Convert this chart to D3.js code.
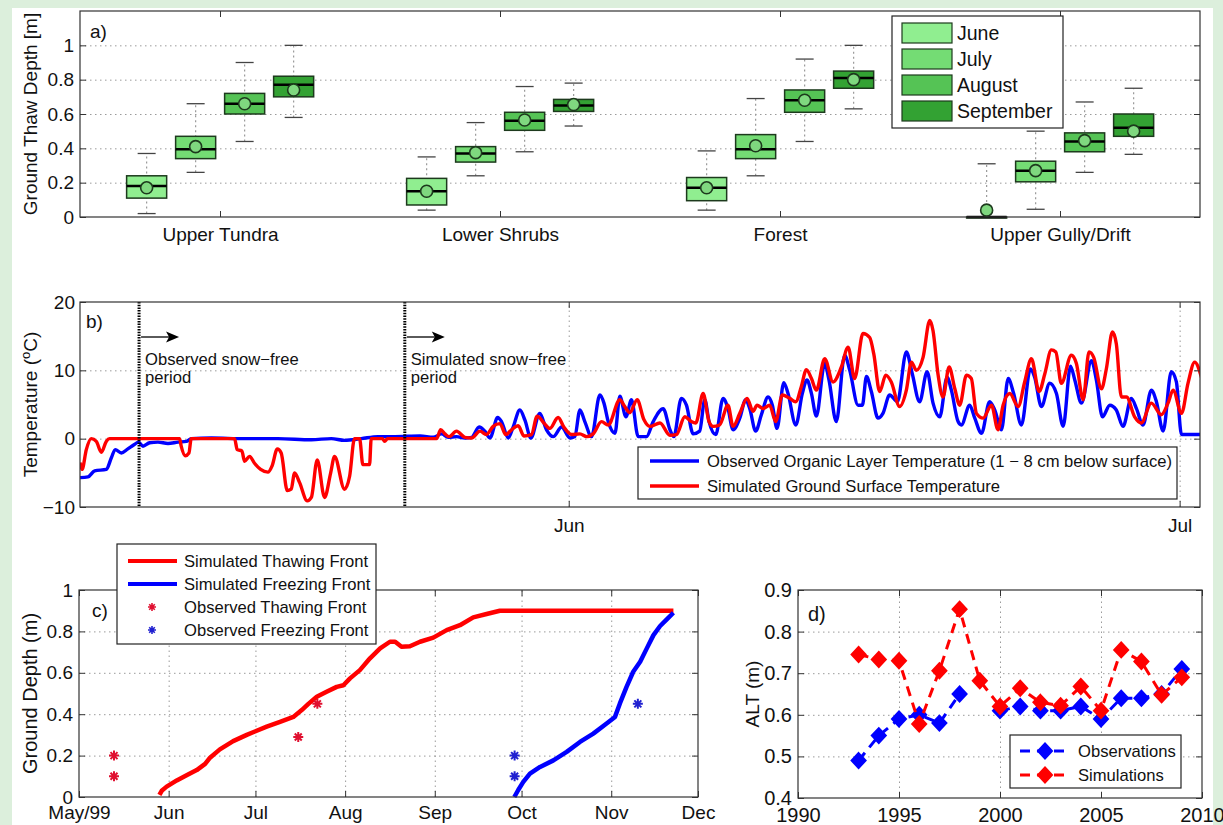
<!DOCTYPE html>
<html>
<head>
<meta charset="utf-8">
<script src="https://cdn.jsdelivr.net/npm/d3@7"></script>
<style>
  body { margin: 0; background: #dcefdc; }
</style>
</head>
<body>
<div id="chart"></div>
<script>
// ---------- data ----------
// a) thaw depth box plots (m), one row per site, one column per month
const sites = ["Upper Tundra", "Lower Shrubs", "Forest", "Upper Gully/Drift"];
const months = ["June", "July", "August", "September"];
const monthColors = ["#90ee90", "#74dc74", "#55c355", "#33a233"];
const whiskLo = [[0.02, 0.26, 0.44, 0.58], [0.04, 0.24, 0.38, 0.53], [0.04, 0.24, 0.44, 0.63], [0.0, 0.045, 0.26, 0.365]];
const q1 =      [[0.11, 0.34, 0.60, 0.70], [0.07, 0.32, 0.505, 0.615], [0.095, 0.34, 0.61, 0.75], [0.0, 0.205, 0.38, 0.47]];
const median =  [[0.18, 0.395, 0.66, 0.77], [0.15, 0.37, 0.56, 0.65], [0.17, 0.395, 0.68, 0.81], [0.0, 0.27, 0.44, 0.52]];
const q3 =      [[0.24, 0.47, 0.72, 0.82], [0.225, 0.41, 0.61, 0.685], [0.23, 0.48, 0.74, 0.85], [0.0, 0.325, 0.49, 0.60]];
const whiskHi = [[0.37, 0.66, 0.90, 1.0], [0.35, 0.55, 0.76, 0.78], [0.385, 0.69, 0.92, 1.0], [0.31, 0.50, 0.67, 0.75]];
const mean =    [[0.17, 0.41, 0.66, 0.74], [0.15, 0.375, 0.565, 0.655], [0.17, 0.415, 0.68, 0.80], [0.04, 0.27, 0.445, 0.50]];
const thawTicks = [0, 0.2, 0.4, 0.6, 0.8, 1];

// b) temperatures, day counted from 1 May 1999
const obsDay = [7.0, 7.39, 7.72, 8.29, 8.54, 8.73, 9.03, 9.35, 9.65, 9.88, 10.09, 10.42, 10.83, 11.32, 11.81, 12.22, 12.46, 13.45, 15.08, 16.72, 18.36, 19.34, 19.99, 20.81, 21.63, 22.45, 23.7, 24.35, 24.76, 25.08, 25.49, 25.9, 26.23, 26.6, 26.88, 27.13, 27.51, 27.7, 28.03, 28.27, 28.6, 28.85, 29.14, 29.58, 29.91, 30.24, 30.65, 31.06, 31.3, 31.55, 31.79, 32.12, 32.53, 32.73, 32.94, 33.27, 33.51, 33.81, 34.08, 34.41, 34.82, 35.15, 35.64, 35.97, 36.16, 36.53, 36.78, 37.11, 37.43, 37.68, 37.89, 38.22, 38.58, 38.82, 39.07, 39.4, 39.69, 39.89, 40.18, 40.46, 40.79, 41.0, 41.23, 41.56, 41.77, 42.15, 42.47, 42.7, 42.92, 43.16, 43.57, 43.78, 44.14, 44.55, 44.8, 45.21, 45.42, 45.62, 45.86, 46.19, 46.43, 46.76, 47.14, 47.58, 47.87, 48.23, 48.6, 48.89, 49.22, 49.58, 49.79, 50.12, 50.28, 50.69, 50.94, 51.27, 51.67, 51.92, 52.25, 52.58, 52.85, 53.23, 53.67, 53.88, 54.21, 54.62, 54.95, 55.28, 55.64, 55.85, 56.18, 56.67, 56.91, 57.21, 57.57, 57.89, 58.22, 58.63, 58.88, 59.2, 59.61, 59.86, 60.19, 60.59, 60.84, 61.09, 62.48];
const obsTemp = [-5.7, -5.6, -4.7, -4.5, -2.8, -1.6, -2.1, -1.5, -0.9, -0.5, -1.1, -0.6, -0.5, -0.7, -0.5, -0.4, 0, 0.1, 0, 0, -0.15, 0, -0.25, 0, 0.3, 0.3, 0.4, 0.2, 0.7, 0.2, 0.3, 0.1, 0.2, 1.7, 1.1, 0.1, 3.1, 2.5, 0.1, 1.7, 4.2, 2.7, 0.1, 3.7, 1.3, 0.3, 1.7, 0.1, 0.3, 4.2, 2.5, 0.3, 6.4, 5.2, 2.5, 0.8, 6.2, 3.2, 5.7, 0.3, 0.3, 2.5, 4.4, 1.3, 0.3, 5.9, 4.9, 0.7, 1.1, 5.7, 2.5, 0.6, 5.9, 4.4, 1.3, 3.0, 5.7, 4.4, 1.1, 3.5, 6.1, 4.9, 1.5, 8.2, 6.6, 2.0, 6.6, 8.6, 6.6, 3.3, 11.0, 8.6, 2.5, 12.2, 10.0, 4.9, 4.9, 9.1, 6.9, 3.0, 3.7, 6.4, 5.4, 12.7, 9.5, 5.4, 9.8, 5.2, 3.2, 9.0, 7.1, 2.5, 2.0, 4.9, 3.0, 0.8, 5.4, 4.2, 1.3, 8.8, 6.6, 2.0, 10.2, 9.0, 4.7, 8.1, 6.6, 1.8, 10.6, 8.6, 5.2, 11.4, 8.6, 3.2, 4.9, 4.2, 1.8, 5.9, 4.4, 2.0, 7.1, 5.4, 1.1, 9.8, 8.3, 0.6, 0.6];
const simDay = [7.0, 7.1, 7.31, 7.55, 7.8, 8.05, 8.29, 8.45, 11.89, 11.97, 12.17, 12.35, 12.46, 14.59, 14.72, 14.95, 15.08, 15.33, 15.57, 15.87, 16.23, 16.43, 16.69, 16.88, 17.18, 17.37, 17.54, 17.78, 18.16, 18.36, 18.65, 19.01, 19.31, 19.5, 19.99, 20.24, 20.48, 20.73, 20.89, 21.22, 21.3, 21.85, 21.96, 22.1, 24.51, 24.71, 24.92, 25.13, 25.49, 25.9, 26.23, 26.64, 26.96, 27.29, 27.62, 27.91, 28.19, 28.52, 28.8, 29.17, 29.45, 29.78, 30.07, 30.48, 30.76, 31.14, 31.55, 31.88, 32.2, 32.61, 32.94, 33.51, 33.71, 34.0, 34.36, 34.69, 34.98, 35.48, 35.97, 36.29, 36.7, 37.02, 37.24, 37.6, 37.89, 38.09, 38.41, 38.82, 39.07, 39.4, 39.76, 40.05, 40.25, 40.54, 40.87, 41.16, 41.49, 41.85, 42.15, 42.42, 42.67, 42.92, 43.16, 43.57, 43.98, 44.39, 44.72, 45.04, 45.45, 45.78, 45.98, 46.27, 46.57, 46.84, 47.25, 47.58, 47.83, 48.07, 48.4, 48.73, 48.89, 49.14, 49.38, 49.68, 49.96, 50.2, 50.53, 50.77, 51.02, 51.35, 51.76, 52.08, 52.33, 52.66, 53.07, 53.39, 53.72, 54.1, 54.38, 54.7, 54.92, 55.19, 55.68, 55.93, 56.26, 56.55, 56.78, 57.16, 57.4, 57.7, 57.89, 58.14, 58.39, 58.79, 59.12, 59.61, 60.1, 60.43, 60.68, 61.09, 61.41, 61.74, 62.07, 62.31];
const simTemp = [-3.5, -4.5, -1.6, 0, -0.4, -2.0, -0.4, 0, 0, -1.1, -2.5, -2.1, 0, 0, -1.6, -1.8, -3.3, -2.6, -3.6, -4.5, -4.9, -4.0, -1.5, -2.1, -7.6, -7.4, -5.0, -6.4, -9.1, -8.6, -3.1, -8.6, -5.0, -2.6, -7.4, -5.5, 0, 0, -3.8, -3.8, 0, 0, -0.4, 0, 0, 1.3, 0.7, 0.3, 1.1, 0.2, 0.1, 1.1, 0.6, 1.8, 2.2, 0.6, 1.3, 1.9, 0.4, 0.6, 3.3, 2.3, 1.5, 3.1, 1.7, 0.6, 0.7, 0.3, 0.7, 2.5, 2.0, 5.7, 4.9, 3.8, 5.7, 2.8, 1.8, 2.3, 0.5, 0.6, 3.2, 2.5, 2.3, 6.6, 2.5, 1.8, 2.0, 4.9, 1.8, 3.7, 5.9, 4.0, 4.9, 4.4, 4.9, 2.5, 6.4, 5.9, 5.4, 7.6, 10.1, 8.8, 7.1, 11.7, 8.3, 10.5, 13.4, 8.8, 15.4, 14.8, 12.4, 6.9, 9.3, 8.3, 4.7, 7.1, 11.2, 10.0, 11.9, 17.3, 15.8, 9.3, 6.1, 10.5, 7.3, 4.9, 9.3, 8.8, 3.7, 3.0, 4.9, 1.3, 4.9, 6.6, 4.7, 8.3, 11.7, 6.9, 9.5, 13.0, 12.7, 8.1, 12.2, 11.0, 5.7, 12.7, 11.9, 7.3, 10.2, 15.6, 13.9, 6.1, 6.1, 3.2, 2.3, 5.2, 3.5, 5.2, 7.1, 3.7, 8.1, 11.2, 9.0, 6.1];
const snowFreeDay = [9.9, 22.95];
const snowFreeText = [["Observed snow\u2212free", "period"], ["Simulated snow\u2212free", "period"]];
const tempTicks = [-10, 0, 10, 20];

// c) thawing / freezing fronts, day counted from 1 May 1999
const thawDay = [27.8, 28.6, 30.3, 33.8, 37.2, 40.7, 43.6, 45.3, 48.7, 53.3, 58.0, 60.6, 64.9, 69.5, 74.1, 77.0, 79.3, 82.2, 85.6, 89.1, 91.4, 93.7, 97.1, 100.6, 104.1, 107.5, 109.3, 111.5, 114.4, 117.9, 122.5, 127.1, 131.7, 136.3, 140.9, 145.5, 205.5];
const thawDepth = [0.01, 0.03, 0.05, 0.08, 0.105, 0.13, 0.16, 0.19, 0.23, 0.27, 0.30, 0.315, 0.34, 0.363, 0.387, 0.42, 0.45, 0.484, 0.508, 0.532, 0.54, 0.573, 0.613, 0.67, 0.718, 0.75, 0.75, 0.726, 0.728, 0.75, 0.77, 0.806, 0.83, 0.868, 0.884, 0.9, 0.9];
const freezeDay = [150.5, 151.9, 153.6, 155.9, 159.4, 164.0, 168.6, 173.2, 177.8, 182.4, 185.3, 187.0, 189.3, 191.6, 194.0, 196.3, 198.6, 200.9, 203.2, 205.5];
const freezeDepth = [0, 0.035, 0.073, 0.113, 0.145, 0.177, 0.218, 0.266, 0.306, 0.355, 0.387, 0.452, 0.532, 0.605, 0.653, 0.718, 0.782, 0.826, 0.858, 0.89];
const thawObsDay = [12.1, 12.1, 75.8, 82.4];
const thawObsDepth = [0.2, 0.1, 0.29, 0.45];
const freezeObsDay = [150.6, 150.6, 193.2];
const freezeObsDepth = [0.2, 0.1, 0.45];
const depthTicks = [0, 0.2, 0.4, 0.6, 0.8, 1];

// d) active layer thickness
const years = [1993, 1994, 1995, 1996, 1997, 1998, 1999, 2000, 2001, 2002, 2003, 2004, 2005, 2006, 2007, 2008, 2009];
const altObs = [0.49, 0.55, 0.59, 0.60, 0.58, 0.65, null, 0.61, 0.62, 0.61, 0.61, 0.62, 0.59, 0.64, 0.64, 0.65, 0.71];
const altSim = [0.745, 0.733, 0.73, 0.578, 0.706, 0.854, 0.682, 0.62, 0.664, 0.63, 0.622, 0.668, 0.61, 0.756, 0.728, 0.648, 0.69];
const yearTicks = [1990, 1995, 2000, 2005, 2010];
const altTicks = [0.4, 0.5, 0.6, 0.7, 0.8, 0.9];

// ---------- setup ----------
const W = 1223, H = 825;
const font = "'Liberation Sans', Arial, Helvetica, sans-serif";
const dayToDate = d => new Date(Date.UTC(1999, 4, 1) + d * 864e5);

const svg = d3.select("#chart").append("svg")
  .attr("width", W).attr("height", H)
  .attr("font-family", font);

svg.append("rect").attr("width", W).attr("height", H).attr("fill", "#dcefdc");
svg.append("rect").attr("x", 12).attr("y", 8).attr("width", 1201).attr("height", H - 8).attr("fill", "#fff");

function grid(x, y, gx, gy) {
  const [xl, xr] = x.range(), [yb, yt] = y.range();
  const g = svg.append("g");
  if (gx) g.append("g").attr("transform", `translate(0,${yb})`)
    .call(d3.axisBottom(x).tickValues(gx).tickSize(-(yb - yt)).tickFormat(""));
  if (gy) g.append("g").attr("transform", `translate(${xl},0)`)
    .call(d3.axisLeft(y).tickValues(gy).tickSize(-(xr - xl)).tickFormat(""));
  g.selectAll(".domain").remove();
  g.selectAll("line").attr("stroke", "#9a9a9a").attr("stroke-dasharray", "1.5,3.5");
}

function axes(x, y, o) {
  const [xl, xr] = x.range(), [yb, yt] = y.range();
  const g = svg.append("g");
  g.append("g").attr("transform", `translate(0,${yb})`)
    .call(d3.axisBottom(x).tickValues(o.xTicks).tickFormat(o.xFmt).tickSize(-6).tickPadding(o.xPad || 10));
  g.append("g").attr("transform", `translate(0,${yt})`)
    .call(d3.axisTop(x).tickValues(o.xTicks).tickFormat("").tickSize(-6));
  g.append("g").attr("transform", `translate(${xl},0)`)
    .call(d3.axisLeft(y).tickValues(o.yTicks).tickFormat(o.yFmt).tickSize(-6).tickPadding(o.yPad || 6));
  g.append("g").attr("transform", `translate(${xr},0)`)
    .call(d3.axisRight(y).tickValues(o.yTicks).tickFormat("").tickSize(-6));
  g.selectAll(".domain").remove();
  g.selectAll(".tick line").attr("stroke", "#333").attr("stroke-width", 1);
  g.selectAll("text").attr("font-family", font).attr("font-size", o.fs).attr("fill", "#111");
  g.append("rect").attr("x", xl).attr("y", yt).attr("width", xr - xl).attr("height", yb - yt)
    .attr("fill", "none").attr("stroke", "#333").attr("stroke-width", 1.2);
  // y label
  svg.append("text")
    .attr("transform", `translate(${o.labX},${(yb + yt) / 2}) rotate(-90)`)
    .attr("text-anchor", "middle").attr("dy", "0.35em")
    .attr("font-size", o.labFs || o.fs).attr("fill", "#111")
    .call(t => o.label(t));
  svg.append("text").attr("x", o.tagX).attr("y", o.tagY)
    .attr("font-size", o.fs).attr("fill", "#111").text(o.tag);
}

function legendBox(x, y, w, h) {
  svg.append("rect").attr("x", x).attr("y", y).attr("width", w).attr("height", h)
    .attr("fill", "#fff").attr("stroke", "#222").attr("stroke-width", 1.2);
}

const starPath = "M-5,0L5,0M0,-5L0,5M-3.5,-3.5L3.5,3.5M-3.5,3.5L3.5,-3.5";

// ---------- a) box plots ----------
{
  const x = d3.scaleLinear().domain([0.5, 4.5]).range([80, 1200]);
  const y = d3.scaleLinear().domain([0, 1.2]).range([217, 11]);
  const offsets = [-0.262, -0.087, 0.088, 0.263];
  const half = (x(0.143) - x(0)) / 2;
  grid(x, y, null, [0.2, 0.4, 0.6, 0.8, 1]);

  const g = svg.append("g");
  sites.forEach((s, i) => {
    months.forEach((m, j) => {
      const cx = x(i + 1 + offsets[j]);
      g.append("line").attr("x1", cx).attr("x2", cx)
        .attr("y1", y(whiskLo[i][j])).attr("y2", y(whiskHi[i][j]))
        .attr("stroke", "#999").attr("stroke-width", 1.2).attr("stroke-dasharray", "2,3");
      [whiskLo[i][j], whiskHi[i][j]].forEach(v => {
        g.append("line").attr("x1", cx - 9).attr("x2", cx + 9)
          .attr("y1", y(v)).attr("y2", y(v)).attr("stroke", "#444").attr("stroke-width", 1.3);
      });
      g.append("rect").attr("x", cx - half).attr("y", y(q3[i][j]))
        .attr("width", 2 * half).attr("height", Math.max(1, y(q1[i][j]) - y(q3[i][j])))
        .attr("fill", monthColors[j]).attr("stroke", "#1d3a1d").attr("stroke-width", 1.5);
      g.append("line").attr("x1", cx - half).attr("x2", cx + half)
        .attr("y1", y(median[i][j])).attr("y2", y(median[i][j]))
        .attr("stroke", "#000").attr("stroke-width", 2.5);
      g.append("circle").attr("cx", cx).attr("cy", y(mean[i][j])).attr("r", 6)
        .attr("fill", "#7fd87f").attr("stroke", "#1d3a1d").attr("stroke-width", 1.6);
    });
  });

  axes(x, y, {
    xTicks: [1, 2, 3, 4], xFmt: d => sites[d - 1], xPad: 11,
    yTicks: thawTicks, yFmt: d3.format("~g"), yPad: 6, fs: 19,
    labX: 30, label: t => t.text("Ground Thaw Depth [m]"),
    tag: "a)", tagX: 90, tagY: 38
  });

  legendBox(892, 16, 171, 112);
  months.forEach((m, j) => {
    svg.append("rect").attr("x", 902).attr("y", 23 + j * 26).attr("width", 50).attr("height", 20)
      .attr("fill", monthColors[j]).attr("stroke", "#1d3a1d").attr("stroke-width", 1.2);
    svg.append("text").attr("x", 957).attr("y", 40 + j * 26)
      .attr("font-size", 19.5).attr("fill", "#111").text(m);
  });
}

// ---------- b) temperatures ----------
{
  const x = d3.scaleUtc().domain([dayToDate(7), dayToDate(62)]).range([80, 1200]);
  const y = d3.scaleLinear().domain([-10, 20]).range([507, 302]);
  grid(x, y, [dayToDate(31), dayToDate(61)], [0, 10]);

  svg.append("clipPath").attr("id", "clipB").append("rect")
    .attr("x", 80).attr("y", 302).attr("width", 1120).attr("height", 205);

  const line = d3.line().curve(d3.curveMonotoneX)
    .x(d => x(dayToDate(d[0]))).y(d => y(d[1]));
  const g = svg.append("g").attr("clip-path", "url(#clipB)");
  g.append("path").datum(obsDay.map((d, i) => [d, obsTemp[i]]))
    .attr("d", line).attr("fill", "none").attr("stroke", "#0000ff")
    .attr("stroke-width", 3.4).attr("stroke-linejoin", "round");
  g.append("path").datum(simDay.map((d, i) => [d, simTemp[i]]))
    .attr("d", line).attr("fill", "none").attr("stroke", "#ff0000")
    .attr("stroke-width", 3.4).attr("stroke-linejoin", "round");

  snowFreeDay.forEach((d, k) => {
    const px = x(dayToDate(d));
    svg.append("line").attr("x1", px).attr("x2", px).attr("y1", 302).attr("y2", 507)
      .attr("stroke", "#000").attr("stroke-width", 3).attr("stroke-dasharray", "1.5,1.2");
    svg.append("line").attr("x1", px + 2).attr("x2", px + 30).attr("y1", 337).attr("y2", 337)
      .attr("stroke", "#000").attr("stroke-width", 1.3);
    svg.append("path").attr("d", `M${px + 40},337L${px + 27},331.5L${px + 30},337L${px + 27},342.5Z`)
      .attr("fill", "#000");
    snowFreeText[k].forEach((s, r) => {
      svg.append("text").attr("x", px + 6).attr("y", 365 + r * 18)
        .attr("font-size", 16.6).attr("fill", "#111").text(s);
    });
  });

  axes(x, y, {
    xTicks: [dayToDate(31), dayToDate(61)], xFmt: d3.utcFormat("%b"), xPad: 12,
    yTicks: tempTicks, yFmt: d3.format("d"), yPad: 5, fs: 19,
    labX: 30,
    label: t => {
      t.append("tspan").text("Temperature (");
      t.append("tspan").attr("font-size", 13).attr("dy", -7).text("o");
      t.append("tspan").attr("dy", 7).text("C)");
    },
    tag: "b)", tagX: 86, tagY: 328
  });

  legendBox(638, 447, 539, 52);
  [["#0000ff", "Observed Organic Layer Temperature (1 \u2212 8 cm below surface)"],
   ["#ff0000", "Simulated Ground Surface Temperature"]].forEach((e, k) => {
    const cy = 461 + k * 25;
    svg.append("line").attr("x1", 650).attr("x2", 699).attr("y1", cy).attr("y2", cy)
      .attr("stroke", e[0]).attr("stroke-width", 3.4);
    svg.append("text").attr("x", 707).attr("y", cy).attr("dy", "0.35em")
      .attr("font-size", 16.6).attr("fill", "#111").text(e[1]);
  });
}

// ---------- c) thawing / freezing fronts ----------
{
  const x = d3.scaleUtc().domain([dayToDate(0), dayToDate(214)]).range([79, 698]);
  const y = d3.scaleLinear().domain([0, 1]).range([797, 590]);
  const monthTicks = d3.utcMonth.range(dayToDate(0), dayToDate(215));
  grid(x, y, monthTicks.slice(1, -1), [0.2, 0.4, 0.6, 0.8]);

  const line = d3.line().x(d => x(dayToDate(d[0]))).y(d => y(d[1]));
  svg.append("path").datum(thawDay.map((d, i) => [d, thawDepth[i]]))
    .attr("d", line).attr("fill", "none").attr("stroke", "#ff0000")
    .attr("stroke-width", 4.5).attr("stroke-linejoin", "round");
  svg.append("path").datum(freezeDay.map((d, i) => [d, freezeDepth[i]]))
    .attr("d", line).attr("fill", "none").attr("stroke", "#0000ff")
    .attr("stroke-width", 4.5).attr("stroke-linejoin", "round");

  thawObsDay.forEach((d, i) => {
    svg.append("path").attr("d", starPath)
      .attr("transform", `translate(${x(dayToDate(d))},${y(thawObsDepth[i])})`)
      .attr("stroke", "#e01030").attr("stroke-width", 2);
  });
  freezeObsDay.forEach((d, i) => {
    svg.append("path").attr("d", starPath)
      .attr("transform", `translate(${x(dayToDate(d))},${y(freezeObsDepth[i])})`)
      .attr("stroke", "#2020d0").attr("stroke-width", 2);
  });

  axes(x, y, {
    xTicks: monthTicks,
    xFmt: d => d.getUTCMonth() === 4 ? "May/99" : d3.utcFormat("%b")(d), xPad: 9,
    yTicks: depthTicks, yFmt: d3.format("~g"), yPad: 6, fs: 19,
    labX: 30, labFs: 20, label: t => t.text("Ground Depth (m)"),
    tag: "c)", tagX: 92, tagY: 617
  });

  legendBox(117, 544, 259, 100);
  const entries = [
    ["#ff0000", "line", "Simulated Thawing Front"],
    ["#0000ff", "line", "Simulated Freezing Front"],
    ["#e01030", "star", "Observed Thawing Front"],
    ["#2020d0", "star", "Observed Freezing Front"]
  ];
  entries.forEach((e, k) => {
    const cy = 561 + k * 23;
    if (e[1] === "line") {
      svg.append("line").attr("x1", 128).attr("x2", 177).attr("y1", cy).attr("y2", cy)
        .attr("stroke", e[0]).attr("stroke-width", 4);
    } else {
      svg.append("path").attr("d", starPath).attr("transform", `translate(152,${cy}) scale(0.8)`)
        .attr("stroke", e[0]).attr("stroke-width", 2);
    }
    svg.append("text").attr("x", 184).attr("y", cy).attr("dy", "0.35em")
      .attr("font-size", 16.6).attr("fill", "#111").text(e[2]);
  });
}

// ---------- d) ALT ----------
{
  const x = d3.scaleLinear().domain([1990, 2010]).range([798, 1202]);
  const y = d3.scaleLinear().domain([0.4, 0.9]).range([798, 590]);
  grid(x, y, [1995, 2000, 2005], [0.5, 0.6, 0.7, 0.8]);

  const diamond = "M0,-7.5L7,0L0,7.5L-7,0Z";
  const line = d3.line().defined(d => d[1] != null).x(d => x(d[0])).y(d => y(d[1]));
  [[altObs, "#0000ff"], [altSim, "#ff0000"]].forEach(([vals, c]) => {
    const pts = years.map((yr, i) => [yr, vals[i]]);
    svg.append("path").datum(pts).attr("d", line).attr("fill", "none")
      .attr("stroke", c).attr("stroke-width", 3).attr("stroke-dasharray", "10,7");
    svg.append("g").selectAll("path").data(pts.filter(p => p[1] != null)).join("path")
      .attr("d", diamond).attr("transform", p => `translate(${x(p[0])},${y(p[1])})`)
      .attr("fill", c).attr("stroke", c).attr("stroke-width", 2);
  });

  axes(x, y, {
    xTicks: yearTicks, xFmt: d3.format("d"), xPad: 10,
    yTicks: altTicks, yFmt: d3.format(".1f"), yPad: 6, fs: 20,
    labX: 752, labFs: 19, label: t => t.text("ALT (m)"),
    tag: "d)", tagX: 808, tagY: 621
  });

  legendBox(1010, 735, 171, 53);
  [["#0000ff", "Observations"], ["#ff0000", "Simulations"]].forEach((e, k) => {
    const cy = 751 + k * 24;
    svg.append("line").attr("x1", 1020).attr("x2", 1070).attr("y1", cy).attr("y2", cy)
      .attr("stroke", e[0]).attr("stroke-width", 3).attr("stroke-dasharray", "10,7");
    svg.append("path").attr("d", diamond).attr("transform", `translate(1045,${cy})`)
      .attr("fill", e[0]).attr("stroke", e[0]).attr("stroke-width", 2);
    svg.append("text").attr("x", 1078).attr("y", cy).attr("dy", "0.35em")
      .attr("font-size", 16.6).attr("fill", "#111").text(e[1]);
  });
}
</script>
</body>
</html>
